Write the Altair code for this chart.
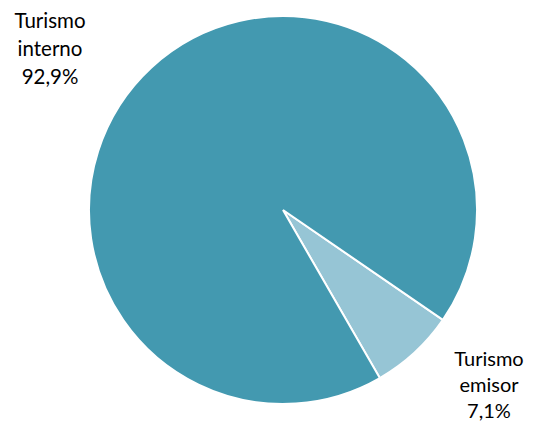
import altair as alt
import pandas as pd
import math

categories = ["Turismo emisor", "Turismo interno"]
values = [7.1, 92.9]
label_lines = [["Turismo", "emisor", "7,1%"], ["Turismo", "interno", "92,9%"]]
colors = ["#96C5D5", "#4399B0"]

df = pd.DataFrame({"cat": categories, "val": values, "ord": [0, 1]})

start = math.radians(124.5)

pie = alt.Chart(df).mark_arc(
    outerRadius=194, stroke="white", strokeWidth=2
).encode(
    theta=alt.Theta("val:Q", stack=True,
                    scale=alt.Scale(type="linear", zero=True, range=[start, start + 2 * math.pi])),
    color=alt.Color("cat:N", scale=alt.Scale(domain=categories, range=colors), legend=None),
    order=alt.Order("ord:Q"),
    x=alt.value(275),
    y=alt.value(202),
)

lab_left = alt.Chart(pd.DataFrame({"t": [label_lines[1]]})).mark_text(
    font="Lato", fontSize=20.5, lineHeight=28, align="center", baseline="alphabetic", color="black"
).encode(text="t", x=alt.value(42), y=alt.value(20))

lab_right = alt.Chart(pd.DataFrame({"t": [label_lines[0]]})).mark_text(
    font="Lato", fontSize=20, lineHeight=26, align="center", baseline="alphabetic", color="black"
).encode(text="t", x=alt.value(481), y=alt.value(358))

chart = alt.layer(pie, lab_left, lab_right).properties(
    width=519, height=414, padding=0, autosize=alt.AutoSizeParams(type="none")
).configure_view(stroke=None)

chart.save("out.html", embed_options={"renderer": "svg", "actions": False})
